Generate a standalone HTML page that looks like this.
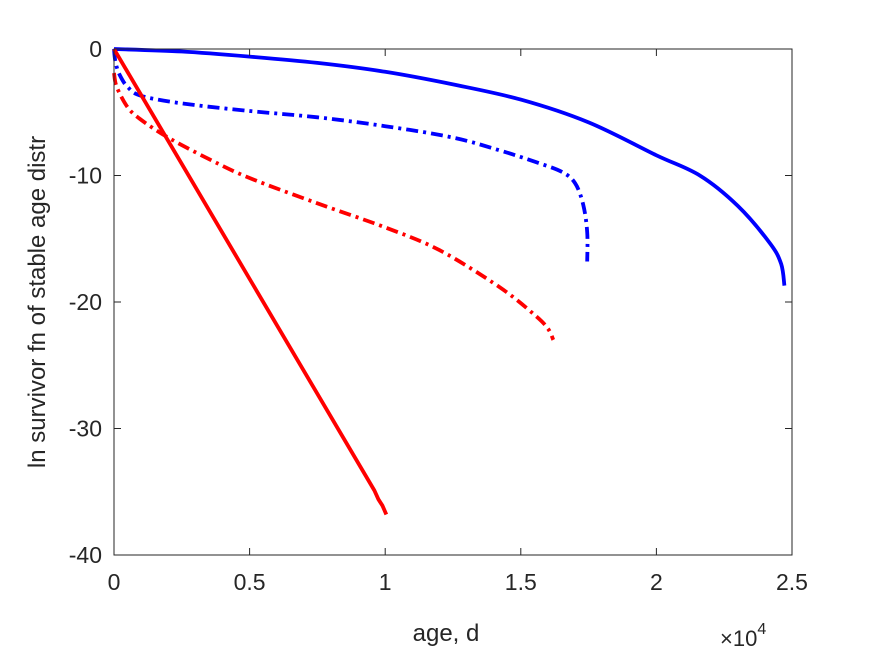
<!DOCTYPE html>
<html><head><meta charset="utf-8"><style>
html,body{margin:0;padding:0;background:#fff;}
svg text{font-family:"Liberation Sans",Arial,sans-serif;fill:#262626;}
</style></head><body>
<svg id="chart" width="875" height="656" viewBox="0 0 875 656" xmlns="http://www.w3.org/2000/svg">
<rect width="875" height="656" fill="#fff"/>
<g id="series"></g>
<g id="axes"></g>
<text x="446" y="641" font-size="24" text-anchor="middle">age, d</text>
<text transform="translate(45,302) rotate(-90)" font-size="24" text-anchor="middle">ln survivor fn of stable age distr</text>
<text x="720" y="646" font-size="22">×10<tspan font-size="16" dy="-12">4</tspan></text>
</svg>
<script>
const xTicks=[0,0.5,1,1.5,2,2.5];
const xTickLabels=["0","0.5","1","1.5","2","2.5"];
const yTicks=[0,-10,-20,-30,-40];
const yTickLabels=["0","-10","-20","-30","-40"];
const blueSolidX=[0,0.25,0.5,0.75,1.0,1.25,1.5,1.75,2.0,2.16,2.3,2.42,2.46,2.472];
const blueSolidY=[0,-0.2,-0.6,-1.1,-1.8,-2.8,-4.0,-5.8,-8.4,-10,-12.4,-15.4,-17.0,-18.7];
const blueDashX=[0,0.005,0.02,0.05,0.1,0.25,0.5,0.75,1.0,1.25,1.42,1.55,1.65,1.7,1.73,1.745,1.745];
const blueDashY=[0,-1,-2,-3,-3.7,-4.3,-4.9,-5.4,-6.1,-7,-8.0,-8.9,-9.7,-10.6,-12.3,-14.5,-16.8];
const redDashX=[0,0.01,0.05,0.1,0.2,0.35,0.5,0.75,1.0,1.2,1.42,1.55,1.6,1.62];
const redDashY=[-1.9,-3,-4.6,-5.6,-7,-8.7,-10.2,-12.2,-14.1,-15.9,-18.8,-21.0,-22.1,-23];
const redSolidX=[0,0.96,0.975,0.99,1.004];
const redSolidY=[0,-34.9,-35.6,-36.1,-36.8];

const L=114,R=792,T=49,B=555;
const xs=v=>L+(v-0)/(2.5-0)*(R-L);
const ys=v=>T+(0-v)/(0-(-40))*(B-T);
const NS="http://www.w3.org/2000/svg";
const series=document.getElementById('series');
const axes=document.getElementById('axes');
function line(xArr,yArr,color,dash,name,smooth){
  const p=document.createElementNS(NS,'path');
  const P=xArr.map((x,i)=>[xs(x),ys(yArr[i])]);
  let d='M'+P[0][0].toFixed(1)+','+P[0][1].toFixed(1);
  for(let i=0;i<P.length-1;i++){
    if(!smooth){d+='L'+P[i+1][0].toFixed(1)+','+P[i+1][1].toFixed(1);continue;}
    const p0=P[Math.max(i-1,0)],p1=P[i],p2=P[i+1],p3=P[Math.min(i+2,P.length-1)];
    const c1=[p1[0]+(p2[0]-p0[0])/6,p1[1]+(p2[1]-p0[1])/6];
    const c2=[p2[0]-(p3[0]-p1[0])/6,p2[1]-(p3[1]-p1[1])/6];
    d+=`C${c1[0].toFixed(1)},${c1[1].toFixed(1)} ${c2[0].toFixed(1)},${c2[1].toFixed(1)} ${p2[0].toFixed(1)},${p2[1].toFixed(1)}`;
  }
  p.setAttribute('d',d);
  p.setAttribute('fill','none');
  p.setAttribute('stroke',color);
  p.setAttribute('stroke-width','3.8');
  p.setAttribute('stroke-linejoin','round');
  if(dash)p.setAttribute('stroke-dasharray',dash);
  
  
  series.appendChild(p);
}
line(blueSolidX,blueSolidY,'#0000ff',null,'blue-solid-line',true);
line(blueDashX,blueDashY,'#0000ff','12,5,3,5','blue-dashdot-line',true);
line(redDashX,redDashY,'#ff0000','12,5,3,5','red-dashdot-line',true);
line(redSolidX,redSolidY,'#ff0000',null,'red-solid-line',false);

const box=document.createElementNS(NS,'rect');
box.setAttribute('x',L);box.setAttribute('y',T);box.setAttribute('width',R-L);box.setAttribute('height',B-T);
box.setAttribute('fill','none');box.setAttribute('stroke','#262626');box.setAttribute('stroke-width','1');


axes.appendChild(box);
xTicks.forEach((t,i)=>{
  const x=xs(t);
  const g=document.createElementNS(NS,'path');
  g.setAttribute('d',`M${x},${B}V${B-7}M${x},${T}V${T+7}`);
  g.setAttribute('stroke','#262626');
  
  
  axes.appendChild(g);
  const tx=document.createElementNS(NS,'text');
  tx.setAttribute('x',x);tx.setAttribute('y',B+35);tx.setAttribute('font-size','23');tx.setAttribute('text-anchor','middle');
  tx.textContent=xTickLabels[i];
  
  
  axes.appendChild(tx);
});
yTicks.forEach((t,i)=>{
  const y=ys(t);
  const g=document.createElementNS(NS,'path');
  g.setAttribute('d',`M${L},${y}H${L+7}M${R},${y}H${R-7}`);
  g.setAttribute('stroke','#262626');
  
  
  axes.appendChild(g);
  const tx=document.createElementNS(NS,'text');
  tx.setAttribute('x',L-12);tx.setAttribute('y',y+8);tx.setAttribute('font-size','23');tx.setAttribute('text-anchor','end');
  tx.textContent=yTickLabels[i];
  
  
  axes.appendChild(tx);
});
</script>
</body></html>
